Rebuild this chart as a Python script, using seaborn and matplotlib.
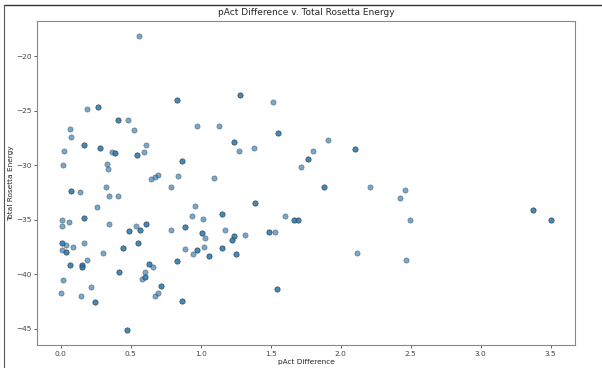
import matplotlib
matplotlib.use("Agg")
import matplotlib.pyplot as plt
from matplotlib.lines import Line2D
import seaborn as sns
import pandas as pd

# Points drawn once (single observations)
single_x = [0.557, 0.19, 0.48, 0.524, 0.067, 0.071, 0.974, 1.13, 0.026, 0.364,
            0.595, 0.609, 0.017, 0.33, 0.336, 0.698, 0.671, 0.648, 0.84, 1.095,
            0.321, 0.788, 0.14, 0.345, 0.41, 0.262, 0.012, 0.062, 0.012, 0.345,
            0.538, 0.79, 0.957, 0.94, 1.019, 1.176, 1.034, 0.886, 0.948, 1.021,
            0.036, 0.009, 0.086, 0.164, 0.188, 0.302, 0.659, 0.602, 0.583, 0.017,
            0.005, 0.143, 0.214, 0.693, 0.676, 1.52, 1.276, 1.383, 1.907, 1.802,
            1.716, 2.207, 2.46, 2.426, 2.495, 2.119, 2.464, 1.319, 1.533, 1.602]
single_y = [-18.13, -24.85, -25.9, -26.77, -26.73, -27.4, -26.43, -26.37, -28.69, -28.83,
            -28.83, -28.17, -29.96, -29.93, -30.38, -30.93, -31.11, -31.3, -30.96, -31.2,
            -32.03, -32.03, -32.48, -32.82, -32.82, -33.8, -35.0, -35.26, -35.59, -35.37,
            -35.59, -35.92, -33.73, -34.71, -34.95, -35.98, -36.68, -37.66, -38.11, -37.5,
            -37.32, -37.77, -37.5, -37.14, -38.7, -38.1, -39.32, -39.82, -40.42, -40.57,
            -41.76, -42.03, -41.19, -41.76, -41.97, -24.2, -28.71, -28.41, -27.68, -28.71,
            -30.2, -32.03, -32.3, -33.03, -35.07, -38.05, -38.66, -36.44, -36.1, -34.67]

# Points that appear darker (repeated observations at the same spot)
repeat_x = [0.83, 0.264, 0.407, 0.169, 0.283, 0.39, 0.548, 0.864, 0.071, 0.164,
            0.609, 0.569, 0.49, 0.886, 1.152, 1.009, 0.974, 1.057, 1.15, 0.833,
            0.007, 0.041, 0.064, 0.152, 0.15, 0.448, 0.555, 0.419, 0.633, 0.605,
            0.243, 0.476, 0.714, 0.866, 1.283, 1.555, 1.236, 2.1, 1.764, 1.881,
            1.545, 1.388, 1.236, 1.226, 1.255, 1.49, 1.669, 1.693, 3.376, 3.5]
repeat_y = [-24.0, -24.64, -25.9, -28.17, -28.47, -28.87, -29.05, -29.65, -32.33, -34.89,
            -35.4, -35.92, -36.01, -35.71, -34.52, -36.2, -37.81, -38.36, -37.57, -38.78,
            -37.11, -37.99, -39.19, -39.19, -39.35, -37.57, -37.1, -39.78, -39.11, -40.3,
            -42.56, -45.15, -41.08, -42.46, -23.58, -27.04, -27.9, -28.56, -29.47, -32.0,
            -41.37, -33.49, -36.47, -36.83, -38.17, -36.13, -35.07, -35.07, -34.13, -35.07]

title = "pAct Difference v. Total Rosetta Energy"
xlabel = "pAct Difference"
ylabel = "Total Rosetta Energy"

df = pd.DataFrame({
    "x": single_x + repeat_x + repeat_x,
    "y": single_y + repeat_y + repeat_y,
})

sns.set_style("white")
fig = plt.figure(figsize=(6.02, 3.68), dpi=100)
ax = fig.add_axes([37 / 602, 1 - 345 / 368, (575 - 37) / 602, (345 - 21) / 368])

sns.scatterplot(data=df, x="x", y="y", ax=ax, color="#1f77b4", alpha=0.62,
                s=14, edgecolor="#444444", linewidth=0.5)

ax.set_title(title, fontsize=6.5, pad=4)
ax.set_xlabel(xlabel, fontsize=5.3, labelpad=1.5)
ax.set_ylabel(ylabel, fontsize=5.3, labelpad=1.5)
ax.tick_params(axis="both", labelsize=5.3, length=2.5, width=0.6,
               colors="#444444", direction="out", bottom=True, left=True, pad=1.5)
for sp in ax.spines.values():
    sp.set_color("#888888")
    sp.set_linewidth(0.8)

# notebook-cell frame lines
fig.add_artist(Line2D([4 / 602, 1.0], [1 - 5 / 368, 1 - 5 / 368],
                      transform=fig.transFigure, color="#333333", linewidth=1.0))
fig.add_artist(Line2D([4 / 602, 4 / 602], [0.0, 1 - 5 / 368],
                      transform=fig.transFigure, color="#555555", linewidth=0.8))

fig.savefig("out.png", dpi=100)
